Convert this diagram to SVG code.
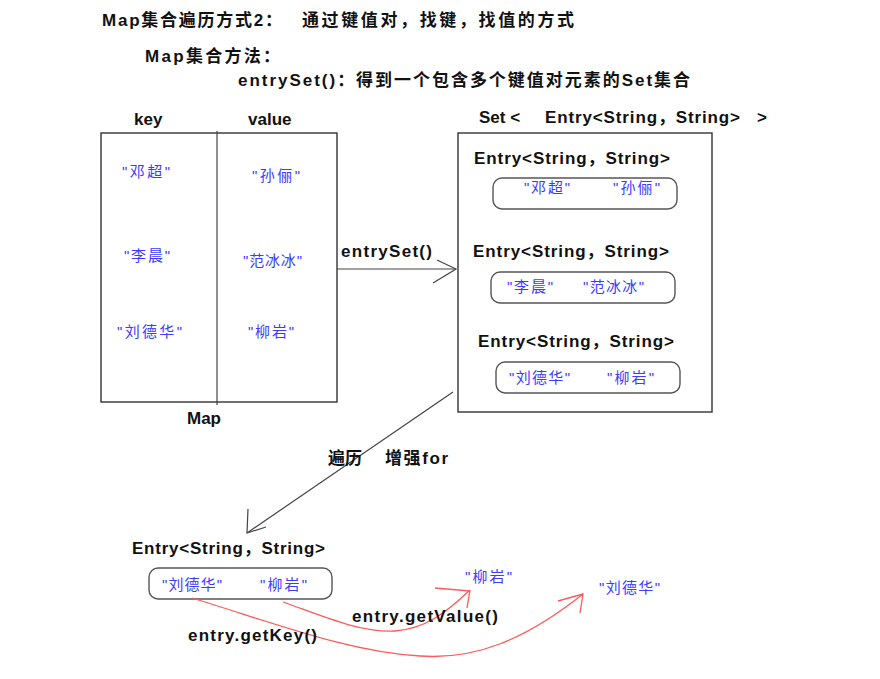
<svg xmlns="http://www.w3.org/2000/svg" width="880" height="679" viewBox="0 0 880 679">
<style>
  .t { font-family: "Liberation Sans", "Noto Sans CJK SC", sans-serif; font-weight: bold; font-size: 17px; fill: #111; }
  .e { font-family: "Liberation Sans", "Noto Sans CJK SC", sans-serif; font-weight: bold; font-size: 17px; fill: #111; }
  .s { font-family: "Liberation Sans", "Noto Sans CJK SC", sans-serif; font-size: 15px; fill: #3c3cff; }
  .box { fill: #fff; stroke: #333; stroke-width: 1.4; }
  .rbox { fill: #fff; stroke: #555; stroke-width: 1.4; }
  .ln { fill: none; stroke: #444; stroke-width: 1.2; }
  .red { fill: none; stroke: #ff5a5a; stroke-width: 1.3; }
</style>
<rect width="880" height="679" fill="#fff"/>

<g id="titles">
  <text class="t" x="102" y="26" textLength="180">Map集合遍历方式2：</text>
  <text class="t" x="302" y="26" textLength="272">通过键值对，找键，找值的方式</text>
  <text class="t" x="145" y="62" textLength="135">Map集合方法：</text>
  <text class="t" x="238" y="86" textLength="452">entrySet()：得到一个包含多个键值对元素的Set集合</text>
</g>

<g id="map">
  <text class="e" x="134" y="125">key</text>
  <text class="e" x="248" y="125">value</text>
  <rect class="box" x="101" y="133" width="236" height="269"/>
  <line class="ln" x1="217" y1="131" x2="217" y2="405" stroke="#222"/>
  <text class="s" x="122" y="177" textLength="48">"邓超"</text>
  <text class="s" x="124" y="261" textLength="46">"李晨"</text>
  <text class="s" x="117" y="337" textLength="65">"刘德华"</text>
  <text class="s" x="252" y="181" textLength="48">"孙俪"</text>
  <text class="s" x="243" y="266" textLength="59">"范冰冰"</text>
  <text class="s" x="248" y="337" textLength="46">"柳岩"</text>
  <text class="e" x="187" y="424">Map</text>
</g>

<g id="set">
  <text class="e" x="479" y="123">Set &lt;</text>
  <text class="e" x="545" y="123" textLength="195">Entry&lt;String，String&gt;</text>
  <text class="e" x="757" y="123">&gt;</text>
  <rect class="box" x="458" y="133" width="254" height="279"/>
</g>

<g id="entry1">
  <text class="e" x="474" y="164" textLength="196">Entry&lt;String，String&gt;</text>
  <rect class="rbox" x="493" y="178" width="184" height="31" rx="9"/>
  <text class="s" x="524" y="193" textLength="46">"邓超"</text>
  <text class="s" x="613" y="193" textLength="47">"孙俪"</text>
</g>

<g id="entry2">
  <text class="e" x="473" y="257" textLength="196">Entry&lt;String，String&gt;</text>
  <rect class="rbox" x="491" y="272" width="184" height="31" rx="9"/>
  <text class="s" x="507" y="292" textLength="46">"李晨"</text>
  <text class="s" x="583" y="292" textLength="61">"范冰冰"</text>
</g>

<g id="entry3">
  <text class="e" x="478" y="347" textLength="196">Entry&lt;String，String&gt;</text>
  <rect class="rbox" x="496" y="362" width="184" height="31" rx="9"/>
  <text class="s" x="509" y="383" textLength="61">"刘德华"</text>
  <text class="s" x="607" y="383" textLength="47">"柳岩"</text>
</g>

<g id="entryOut">
  <text class="e" x="132" y="554" textLength="193">Entry&lt;String，String&gt;</text>
  <rect class="rbox" x="149" y="568" width="183" height="31" rx="9"/>
  <text class="s" x="162" y="590" textLength="60">"刘德华"</text>
  <text class="s" x="260" y="590" textLength="47">"柳岩"</text>
</g>

<g id="results">
  <text class="s" x="465" y="582" textLength="47">"柳岩"</text>
  <text class="s" x="599" y="593" textLength="61">"刘德华"</text>
</g>

<g id="connectors">
  <line class="ln" x1="337" y1="269" x2="456" y2="269"/>
  <polyline class="ln" points="437,260 456,269 433,283"/>
  <text class="e" x="341" y="257" textLength="91">entrySet()</text>

  <line class="ln" x1="453" y1="392" x2="247" y2="533"/>
  <polyline class="ln" points="248,509 247,533 266,527"/>
  <text class="t" x="328" y="464">遍历</text>
  <text class="t" x="385" y="464" textLength="63">增强for</text>

  <path class="red" d="M192,598 C280,625 350,652 420,656 C475,660 525,640 583,594"/>
  <polyline class="red" points="558,601 583,594 580,613"/>
  <path class="red" d="M283,602 C320,615 360,633 395,631 C425,629 447,612 470,590"/>
  <polyline class="red" points="435,588 470,591"/>
  <polyline class="red" points="467,608 470,590"/>
  <text class="e" x="352" y="622" textLength="146">entry.getValue()</text>
  <text class="e" x="188" y="641" textLength="129">entry.getKey()</text>
</g>
</svg>
